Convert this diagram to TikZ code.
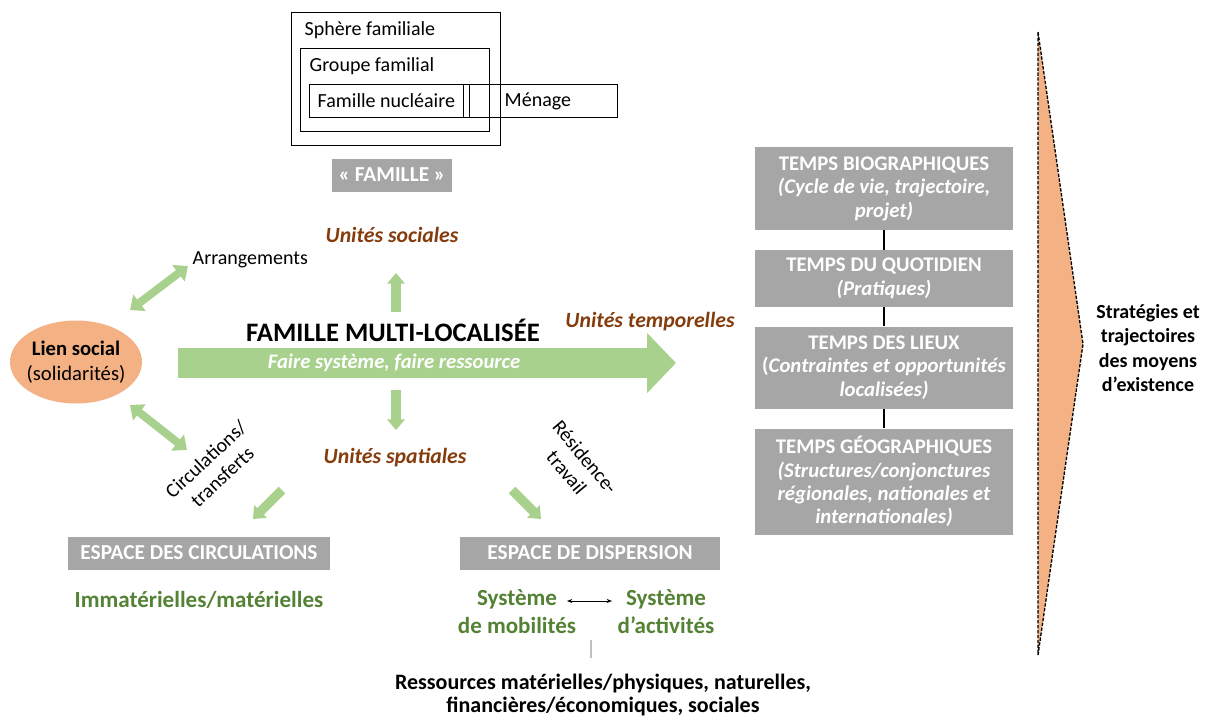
\documentclass[tikz,border=0pt]{standalone}
\usepackage{fontspec}
\setmainfont{Carlito}
\usetikzlibrary{positioning,shapes.geometric,arrows.meta}
\definecolor{vert}{HTML}{A9D18E}
\definecolor{vertfonce}{HTML}{548235}
\definecolor{gris}{HTML}{A6A6A6}
\definecolor{saumon}{HTML}{F4B183}
\definecolor{brun}{HTML}{843C0C}

\begin{document}
\begin{tikzpicture}[x=0.75pt,y=-0.75pt,node distance=14.5pt,
    txt/.style={font=\fontsize{15}{18}\selectfont},
    unite/.style={font=\fontsize{16.3}{18}\selectfont\bfseries\itshape,text=brun},
    grisbox/.style={fill=gris,text=white,font=\fontsize{16}{18}\selectfont\bfseries,minimum height=24.75pt,inner sep=1pt},
    temps/.style={fill=gris,text=white,align=center,minimum width=193.5pt,inner sep=2pt,font=\fontsize{15.6}{17.6}\selectfont\bfseries},
    vtxt/.style={text=vertfonce,align=center,font=\fontsize{17.3}{21}\selectfont\bfseries},
    fleche/.style={draw=vert,line width=7.5pt,-{Triangle[length=8pt,width=13pt]}},
    dfleche/.style={draw=vert,line width=6pt,{Triangle[length=9pt,width=15pt]}-{Triangle[length=9pt,width=15pt]}}]

    \useasboundingbox (0,0) rectangle (1213,717);

    % famille : cadres emboites
    \draw (291,12) rectangle (500,145);
    \draw (300,48) rectangle (489,131);
    \draw (309,84) rectangle (469,117);
    \draw (463,84) rectangle (617,117);
    \node[txt,anchor=west] (sphere) at (300,30) {Sphère familiale};
    \node[txt,anchor=west] (groupe) at (305,66) {Groupe familial};
    \node[txt,anchor=west] (nucleaire) at (313,101) {Famille nucléaire};
    \node[txt,anchor=west] (menage) at (500,101) {Ménage};
    \node[grisbox,minimum width=90pt] (famille) at (392,175) {« FAMILLE »};

    % centre
    \node[ellipse,fill=saumon,inner sep=0pt,minimum width=99pt,minimum height=62.25pt] (lien) at (76,362) {};
    \node[align=center,font=\fontsize{15.5}{19}\selectfont] (lientxt) at (lien) {\textbf{Lien social}\\(solidarités)};
    \node[font=\fontsize{20}{24}\selectfont\bfseries] (fml) at (393,330) {FAMILLE MULTI-LOCALISÉE};
    \coordinate (fs) at (178,363);
    \coordinate (ft) at (676,363);
    \draw[draw=vert,line width=22.5pt,-{Triangle[length=21.75pt,width=44pt]}] (fs) -- (ft);
    \node[text=white,font=\fontsize{15.5}{18}\selectfont\bfseries\itshape] (fsys) at (394,363) {Faire système, faire ressource};

    \node[unite] (soc) at (392,235) {Unités sociales};
    \node[unite] (tmp) at (650,322) {Unités temporelles};
    \node[unite] (spa) at (395,458) {Unités spatiales};
    \coordinate (h1) at (396,312);
    \coordinate (h2) at (396,273);
    \coordinate (b1) at (396,390);
    \coordinate (b2) at (396,430);
    \draw[fleche] (h1) -- (h2);
    \draw[fleche] (b1) -- (b2);

    \node[txt,anchor=west] (arr) at (188,260) {Arrangements};
    \coordinate (a1) at (130,310);
    \coordinate (a2) at (188,266);
    \coordinate (c1) at (130,405);
    \coordinate (c2) at (187,450);
    \draw[dfleche] (a1) -- (a2);
    \draw[dfleche] (c1) -- (c2);

    \node[txt,align=center,rotate=43] (circ) at (214,468) {Circulations/\\transferts};
    \node[txt,align=center,rotate=-50] (resid) at (576,465) {Résidence-\\travail};
    \coordinate (d1) at (282,490);
    \coordinate (d2) at (253,519);
    \coordinate (e1) at (512,490);
    \coordinate (e2) at (541,519);
    \draw[fleche,line width=7pt] (d1) -- (d2);
    \draw[fleche,line width=7pt] (e1) -- (e2);

    % espaces
    \node[grisbox,minimum width=196.5pt] (espc) at (199,553) {ESPACE DES CIRCULATIONS};
    \node[grisbox,minimum width=195pt] (espd) at (590,553) {ESPACE DE DISPERSION};
    \node[vtxt] (immat) at (199,600) {Immatérielles/matérielles};
    \node[vtxt] (mob) at (517,612) {Système\\de mobilités};
    \node[vtxt] (act) at (666,612) {Système\\d’activités};
    \coordinate (m1) at (567,601);
    \coordinate (m2) at (612,601);
    \draw[{Stealth[length=4pt]}-{Stealth[length=4pt]}] (m1) -- (m2);
    \coordinate (g1) at (591,640);
    \coordinate (g2) at (591,658);
    \draw[gray!50,line width=0.8pt] (g1) -- (g2);
    \node[align=center,font=\fontsize{16.5}{17.5}\selectfont\bfseries] (ress) at (603,695)
        {Ressources matérielles/physiques, naturelles,\\financières/économiques, sociales};

    % temps
    \node[temps,minimum height=62.25pt] (t1) at (884,188.5)
        {TEMPS BIOGRAPHIQUES\\\textit{(Cycle de vie, trajectoire,}\\\textit{projet)}};
    \node[temps,minimum height=42.75pt,below=of t1] (t2)
        {TEMPS DU QUOTIDIEN\\\textit{(Pratiques)}};
    \node[temps,minimum height=61.5pt,below=of t2] (t3)
        {TEMPS DES LIEUX\\(\textit{Contraintes et opportunités}\\\textit{localisées)}};
    \node[temps,minimum height=79.5pt,below=of t3] (t4)
        {TEMPS GÉOGRAPHIQUES\\\textit{(Structures/conjonctures}\\\textit{régionales, nationales et}\\\textit{internationales)}};
    \draw[line width=2pt] (t1) -- (t2);
    \draw[line width=2pt] (t2) -- (t3);
    \draw[line width=2pt] (t3) -- (t4);

    % strategies
    \filldraw[fill=saumon,draw=black,line width=1pt,dash pattern=on 2.5pt off 1.2pt]
        (1038,32) -- (1083,344) -- (1038,655) -- cycle;
    \node[align=center,font=\fontsize{15}{18.4}\selectfont\bfseries] (strat) at (1148,348)
        {Stratégies et\\trajectoires\\des moyens\\d’existence};
\end{tikzpicture}
\end{document}
